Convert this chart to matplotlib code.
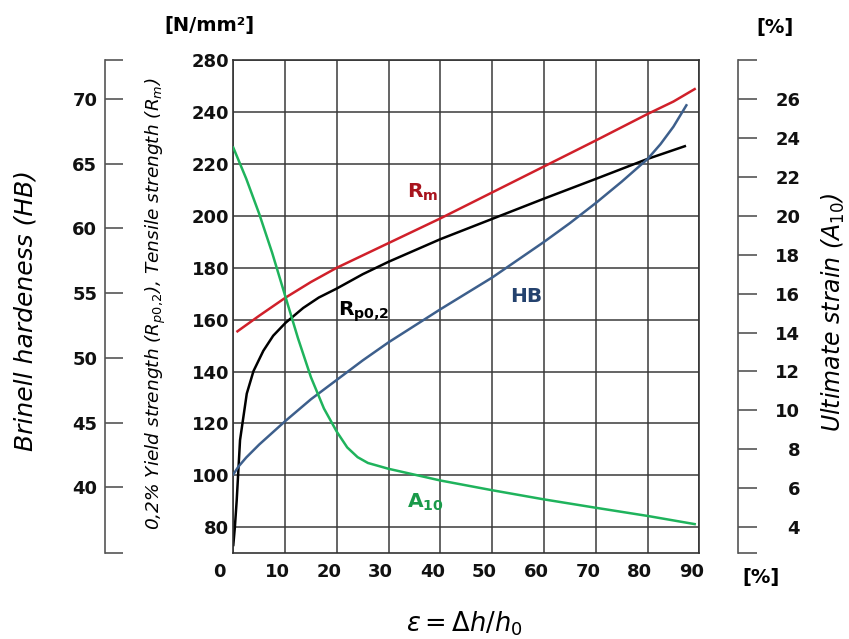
import matplotlib
matplotlib.use("Agg")
import matplotlib.pyplot as plt
import matplotlib.transforms as mtransforms

# --- values ---
# deformation eps (x axis)
x_ticks = [0, 10, 20, 30, 40, 50, 60, 70, 80, 90]
x_labels = ["0", "10", "20", "30", "40", "50", "60", "70", "80", "90"]

# strength axis (note: top gridline is labelled 280 in the original)
strength_ticks = [80, 100, 120, 140, 160, 180, 200, 220, 240, 260]
strength_labels = ["80", "100", "120", "140", "160", "180", "200", "220", "240", "280"]

hb_ticks = [40, 45, 50, 55, 60, 65, 70]
a10_ticks = [4, 6, 8, 10, 12, 14, 16, 18, 20, 22, 24, 26]

# tensile strength Rm [N/mm2]
eps_rm = [0.8, 5, 10.1, 15, 20, 30, 40, 50, 60, 70, 80, 85, 89.1]
rm = [155.5, 161.5, 168.5, 174.5, 180, 189.5, 199, 209, 219, 229, 239.2, 244, 248.8]

# yield strength Rp0,2 [N/mm2]
eps_rp = [0, 0.3, 0.66, 1.3, 2.6, 3.9, 5.8, 7.7, 10.1, 13.5, 16.5, 20, 25, 30,
          40, 50, 60, 70, 80, 87.2]
rp = [73.2, 80, 90.5, 113.6, 131.5, 140.2, 148.0, 153.8, 158.8, 164.5, 168.5,
      172, 177.5, 182.3, 191, 198.8, 206.6, 214.2, 221.9, 226.8]

# Brinell hardness HB
eps_hb = [0, 1, 2.5, 5, 10, 15, 20, 25, 30, 40, 50, 60, 65, 70, 75, 80, 82.5, 85, 87.5]
hb = [41.0, 41.6, 42.3, 43.3, 45.1, 46.8, 48.3, 49.8, 51.2, 53.75, 56.2, 58.95,
      60.4, 61.95, 63.6, 65.35, 66.5, 67.85, 69.5]

# ultimate strain A10 [%]
eps_a = [0, 2.5, 5, 7.5, 10, 12.5, 15, 17.5, 20, 22, 24, 26, 30, 35, 40, 50,
         60, 70, 80, 89.1]
a10 = [23.5, 21.9, 20.1, 18.1, 15.9, 13.7, 11.7, 10.1, 8.9, 8.1, 7.6, 7.3, 7.0,
       6.7, 6.4, 5.9, 5.43, 5.0, 4.58, 4.16]

red = "#d0202a"
blue = "#3d5f8c"
green = "#1fb35c"
axis_grey = "#555555"

plt.rcParams["font.family"] = "DejaVu Sans"

fig = plt.figure(figsize=(8.49, 6.39), dpi=100)
ax = fig.add_axes([0.2748, 0.1341, 0.5489, 0.772])

ax.set_xlim(0, 90)
ax.set_ylim(70, 260)
ax.set_xticks(x_ticks, x_labels)
ax.set_yticks(strength_ticks, strength_labels)
ax.grid(True, color="#3a3a3a", lw=1.1)
ax.set_axisbelow(True)
ax.tick_params(axis="both", length=0, labelsize=13)
ax.tick_params(axis="x", pad=7)
ax.tick_params(axis="y", pad=3)
for s in ax.spines.values():
    s.set_color("#333333")
    s.set_linewidth(1.2)

ax.plot(eps_rm, rm, color=red, lw=1.8)
ax.plot(eps_rp, rp, color="black", lw=1.8)

# HB axis on the far left
ax_hb = ax.twinx()
ax_hb.set_ylim(34.9, 73.0)
for s in ["right", "top", "bottom"]:
    ax_hb.spines[s].set_visible(False)
ax_hb.spines["left"].set_visible(True)
ax_hb.spines["left"].set_position(("axes", -0.2753))
ax_hb.spines["left"].set_color(axis_grey)
ax_hb.spines["left"].set_linewidth(1.2)
ax_hb.yaxis.set_ticks_position("left")
ax_hb.set_yticks([34.9] + hb_ticks + [73.0], [""] + [str(t) for t in hb_ticks] + [""])
ax_hb.tick_params(axis="y", direction="in", length=13, width=1.2, color=axis_grey,
                  pad=5.5, labelsize=13)
ax_hb.plot(eps_hb, hb, color=blue, lw=1.8)

# A10 axis on the far right
ax_a = ax.twinx()
ax_a.set_ylim(2.66, 28.0)
for s in ["left", "top", "bottom"]:
    ax_a.spines[s].set_visible(False)
ax_a.spines["right"].set_position(("axes", 1.0837))
ax_a.spines["right"].set_color(axis_grey)
ax_a.spines["right"].set_linewidth(1.2)
ax_a.set_yticks([2.66] + a10_ticks + [28.0], [""] + [str(t) for t in a10_ticks] + [""])
ax_a.tick_params(axis="y", direction="out", length=14, width=1.2, color=axis_grey,
                 pad=30.5, labelsize=13)
ax_a.plot(eps_a, a10, color=green, lw=1.8)
plt.setp(ax_a.get_yticklabels(), ha="right")

for lab in ax.get_xticklabels() + ax.get_yticklabels() + ax_hb.get_yticklabels() + ax_a.get_yticklabels():
    lab.set_fontweight("bold")
    lab.set_color("#111111")

# x tick labels sit a bit left of their gridlines in the original
shift = mtransforms.ScaledTranslation(-0.08, 0, fig.dpi_scale_trans)
for lab in ax.get_xticklabels():
    lab.set_transform(lab.get_transform() + shift)
first = ax.get_xticklabels()[0]
first.set_transform(first.get_transform() + mtransforms.ScaledTranslation(-0.06, 0, fig.dpi_scale_trans))

# curve labels
ax.text(33.5, 207.0, r"$\mathbf{R_{m}}$", color="#a8141e", fontsize=14.5, va="baseline")
ax.text(20.2, 161.7, r"$\mathbf{R_{p0{,}2}}$", color="black", fontsize=14.5, va="baseline")
ax.text(53.4, 166.7, "HB", color="#24426e", fontsize=14.5, fontweight="bold", va="baseline")
ax.text(33.5, 87.4, r"$\mathbf{A_{10}}$", color="#1a9a4a", fontsize=14.5, va="baseline")

# units
fig.text(209 / 849, 1 - 26 / 639, "[N/mm²]", fontsize=14, fontweight="bold",
         ha="center", va="center")
fig.text(775 / 849, 1 - 27 / 639, "[%]", fontsize=14, fontweight="bold",
         ha="center", va="center")
fig.text(761 / 849, 1 - 577 / 639, "[%]", fontsize=14, fontweight="bold",
         ha="center", va="center")

# axis titles
fig.text(26 / 849, 1 - 311 / 639, "Brinell hardeness (HB)", fontsize=18,
         style="italic", rotation=90, ha="center", va="center")
fig.text(156 / 849, 1 - 304 / 639,
         r"0,2% Yield strength ($R_{p0{,}2}$), Tensile strength ($R_m$)",
         fontsize=13.3, style="italic", rotation=90, ha="center", va="center")
fig.text(833 / 849, 1 - 312 / 639, r"Ultimate strain ($A_{10}$)", fontsize=17,
         style="italic", rotation=90, ha="center", va="center")
fig.text(464 / 849, 1 - 624 / 639, r"$\varepsilon = \Delta h/h_0$", fontsize=18.5,
         ha="center", va="center")

fig.savefig("out.png", dpi=100)
